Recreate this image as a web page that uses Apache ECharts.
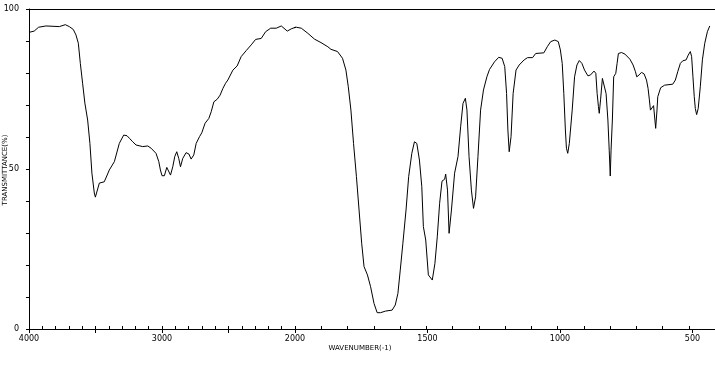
<!DOCTYPE html>
<html><head><meta charset="utf-8">
<script src="https://cdn.jsdelivr.net/npm/echarts@6/dist/echarts.min.js"></script>
<style>html,body{margin:0;padding:0;background:#fff;overflow:hidden}#c{width:715px;height:365px}</style>
</head><body><div id="c"></div>
<script>
// Spectrum values (wavenumber in cm-1, transmittance in %)
const wavenumber = [
 4000,3961,3928,3873,3772,3727,3697,3667,3647,3629,3614,3597,3580,3559,3542,3527,3509,3501,3489,3471,
 3434,3396,3358,3321,3288,3263,3245,3220,3195,3145,3107,3082,3045,3024,3012,3000,2982,2964,2951,2936,
 2919,2904,2889,2874,2861,2844,2819,2798,2781,2761,2743,2718,2701,2676,2648,2630,2610,2585,2563,2542,
 2522,2505,2467,2435,2405,2367,2329,2296,2254,2221,2183,2141,2103,2058,2028,1995,1976,1951,1926,1901,
 1875,1863,1838,1819,1806,1797,1787,1777,1766,1756,1746,1737,1724,1712,1699,1687,1674,1655,1630,1618,
 1608,1599,1589,1577,1567,1555,1545,1536,1526,1517,1511,1502,1492,1477,1467,1458,1449,1440,1430,1426,
 1419,1413,1404,1392,1379,1369,1360,1351,1345,1337,1328,1320,1312,1303,1293,1282,1269,1259,1240,1224,
 1211,1201,1194,1189,1184,1177,1169,1158,1146,1127,1114,1095,1083,1052,1039,1026,1010,997,989,982,
 976,970,966,961,955,944,935,926,917,907,897,884,874,861,854,849,844,841,836,829,
 822,815,808,803,799,796,791,786,778,773,768,756,743,737,724,712,703,698,689,680,
 670,661,655,650,646,640,634,630,626,621,618,607,592,561,551,542,532,523,510,502,
 494,489,484,479,475,470,464,456,448,439,429,420
];
const transmittance = [
 92.7,93.1,94.3,94.7,94.5,95.1,94.5,93.6,91.9,89.3,83.0,76.8,70.6,65.3,58.0,48.7,42.5,41.2,41.2,45.6,
 46.0,49.7,52.3,58.0,60.6,60.4,59.6,58.5,57.5,57.0,57.2,56.5,54.9,52.3,49.7,47.9,47.9,50.5,50.0,48.1,
 50.7,53.9,55.4,53.3,50.7,53.3,55.1,54.7,53.1,54.4,58.0,60.1,61.3,64.3,65.8,67.9,71.0,71.8,73.1,75.2,
 76.8,77.8,80.9,82.2,85.1,87.0,88.8,90.5,90.8,92.9,94.0,94.0,94.7,93.1,93.8,94.3,94.0,92.4,90.6,89.5,
 88.2,87.4,86.7,84.6,80.9,75.7,68.4,58.0,47.6,37.2,26.8,19.5,16.9,13.2,8.0,5.1,5.1,5.6,5.9,7.5,
 11.1,18.4,26.8,37.2,47.6,54.9,58.5,58.0,52.8,44.5,32.0,27.8,16.9,15.3,20.5,28.8,39.3,46.2,46.8,48.4,
 43.4,29.9,37.2,48.7,53.9,63.2,70.5,72.1,68.4,53.9,43.4,37.7,41.3,53.9,68.4,74.7,78.8,81.1,83.5,84.9,
 84.6,82.0,73.6,62.2,55.4,60.1,73.6,80.9,82.5,84.1,84.8,84.8,86.1,86.3,88.2,89.8,90.3,89.8,87.2,83.0,
 73.6,62.2,56.5,54.9,58.0,68.4,78.8,82.5,83.9,83.0,80.9,79.1,79.4,80.6,79.9,73.6,69.5,67.4,71.6,78.3,
 78.1,73.6,65.3,55.9,47.8,55.9,65.3,78.8,79.9,83.0,86.1,86.4,85.9,85.3,84.3,82.5,80.4,78.8,79.4,80.2,
 79.7,77.8,75.2,71.6,68.4,68.1,69.8,69.8,62.7,68.4,72.6,75.4,76.2,76.5,77.8,80.4,83.0,83.8,84.1,85.6,
 86.7,85.1,78.8,72.6,68.9,67.0,68.9,75.7,84.1,89.3,92.9,94.7
];
const yTickLabels = [0, 50, 100];
const xTickLabelsLeft = [4000, 3000, 2000];
const xTickLabelsRight = [1500, 1000, 500];
const yTitle = 'TRANSMITTANCE(%)';
const xTitle = 'WAVENUMBER(-1)';

const FONT = 'DejaVu Sans';
const black = '#000';
const pairs = wavenumber.map((w, i) => [w, transmittance[i]]);

function minorAxis(gi, min, max) {
  return { gridIndex: gi, type: 'value', position: 'bottom', min, max, inverse: true, interval: 100,
    axisLine: { show: true, lineStyle: { color: black, width: 1 } },
    axisTick: { show: true, inside: true, length: 3, lineStyle: { color: black } },
    axisLabel: { show: false }, splitLine: { show: false } };
}
function majorAxis(gi, min, max, labels) {
  return { gridIndex: gi, type: 'value', position: 'bottom', min, max, inverse: true, interval: 500,
    axisLine: { show: false },
    axisTick: { show: true, inside: false, length: 4, lineStyle: { color: black } },
    axisLabel: { show: true, margin: 6, color: black, fontSize: 8, fontFamily: FONT,
      formatter: v => labels.includes(v) ? String(v) : '' },
    splitLine: { show: false } };
}
function topAxis(gi, min, max) {
  return { gridIndex: gi, type: 'value', position: 'top', min, max, inverse: true,
    axisLine: { show: true, lineStyle: { color: black, width: 1 } },
    axisTick: { show: false }, axisLabel: { show: false }, splitLine: { show: false } };
}

const chart = echarts.init(document.getElementById('c'), null, { renderer: 'canvas' });
chart.setOption({
  animation: false,
  backgroundColor: '#fff',
  grid: [
    { left: 29, top: 9, width: 266, height: 320 },
    { left: 295, top: 9, width: 424, height: 320 },
    { left: 295, top: 9, width: 397.5, height: 320 }
  ],
  xAxis: [
    minorAxis(0, 2000, 4000), majorAxis(0, 2000, 4000, xTickLabelsLeft), topAxis(0, 2000, 4000),
    minorAxis(1, 400, 2000), topAxis(1, 400, 2000),
    majorAxis(2, 500, 2000, xTickLabelsRight)
  ],
  yAxis: [
    { gridIndex: 0, type: 'value', min: 0, max: 100, interval: 10,
      axisLine: { show: true, lineStyle: { color: black, width: 1 } },
      axisTick: { show: true, inside: false, length: 3, lineStyle: { color: black } },
      axisLabel: { show: true, margin: 10, color: black, fontSize: 8, fontFamily: FONT,
        formatter: v => yTickLabels.includes(v) ? String(v) : '' },
      splitLine: { show: false } },
    { gridIndex: 1, type: 'value', min: 0, max: 100, show: false, splitLine: { show: false } },
    { gridIndex: 2, type: 'value', min: 0, max: 100, show: false, splitLine: { show: false } }
  ],
  series: [
    { type: 'line', xAxisIndex: 0, yAxisIndex: 0, data: pairs, symbol: 'none', clip: true,
      lineStyle: { color: black, width: 1 }, silent: true },
    { type: 'line', xAxisIndex: 3, yAxisIndex: 1, data: pairs, symbol: 'none', clip: true,
      lineStyle: { color: black, width: 1 }, silent: true }
  ],
  graphic: [
    { type: 'text', x: 5, y: 170, rotation: Math.PI / 2,
      style: { text: yTitle, fill: black, font: '7px "DejaVu Sans"', align: 'center', verticalAlign: 'middle' } },
    { type: 'text', x: 360, y: 348,
      style: { text: xTitle, fill: black, font: '7px "DejaVu Sans"', align: 'center', verticalAlign: 'middle' } }
  ]
});
</script>
</body></html>
